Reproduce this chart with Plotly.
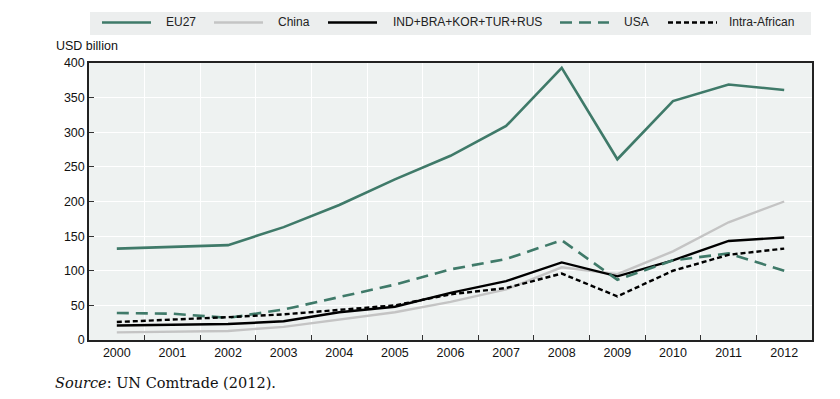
import plotly.graph_objects as go

years = [str(y) for y in range(2000, 2013)]
eu27 = [132, 134, 137, 163, 195, 232, 266, 309, 393, 261, 345, 369, 361]
china = [11, 12, 13, 19, 30, 40, 55, 73, 105, 95, 128, 170, 200]
ind_bra = [21, 22, 23, 27, 40, 48, 68, 85, 112, 92, 115, 143, 148]
usa = [39, 38, 32, 44, 62, 80, 102, 117, 144, 87, 115, 125, 100]
intra_african = [26, 29, 33, 37, 44, 50, 66, 75, 96, 63, 100, 123, 132]

GREEN = "#3f7a69"
FONT = "Liberation Sans, Arial, sans-serif"
W, H = 840, 399
L, R, T, B = 89, 28, 63, 59
PW, PH = W - L - R, H - T - B


def px(x):
    return (x - L) / PW


def py(y):
    return (H - B - y) / PH


fig = go.Figure()
series = [
    ("EU27", eu27, dict(color=GREEN, width=2.6), 102, 164),
    ("China", china, dict(color="#c4c4c4", width=2.4), 214, 276),
    ("IND+BRA+KOR+TUR+RUS", ind_bra, dict(color="#000000", width=2.4), 328, 391),
    ("USA", usa, dict(color=GREEN, width=2.6, dash="12px,7px"), 560, 622),
    ("Intra-African", intra_african, dict(color="#000000", width=2.4, dash="5px,3px"), 668, 727),
]
for name, vals, line, _, _ in series:
    fig.add_trace(go.Scatter(x=years, y=vals, name=name, mode="lines", line=line,
                             showlegend=False))

fig.update_layout(
    width=W, height=H,
    margin=dict(l=L, r=R, t=T, b=B, autoexpand=False),
    paper_bgcolor="white",
    plot_bgcolor="#eef2f1",
    font=dict(family=FONT, size=12, color="#111111"),
    xaxis=dict(type="category", range=[-0.5, 12.5], tickson="boundaries",
               ticks="inside", ticklen=5, tickcolor="#333", showgrid=True,
               gridcolor="white", gridwidth=1, showline=True, linecolor="#222",
               linewidth=1.5, mirror=True, tickfont=dict(size=12.5)),
    yaxis=dict(range=[0, 400], dtick=50, ticks="inside", ticklen=5, tickcolor="#333",
               showgrid=True, gridcolor="white", gridwidth=1, showline=True,
               linecolor="#222", linewidth=1.5, mirror=True, zeroline=False,
               tickfont=dict(size=12.5)),
)

# legend band
fig.add_shape(type="rect", xref="paper", yref="paper", x0=px(90), x1=px(811),
              y0=py(35), y1=py(12), fillcolor="#eceeee", line=dict(width=0), layer="below")
LY = 22.5
for name, vals, line, lx, tx in series:
    fig.add_shape(type="line", xref="paper", yref="paper", x0=px(lx), x1=px(lx + 49),
                  y0=py(LY), y1=py(LY), line=line)
    fig.add_annotation(text=name, xref="paper", yref="paper", x=px(tx), y=py(LY),
                       xanchor="left", yanchor="middle", showarrow=False,
                       font=dict(size=12, family=FONT, color="#222"))

fig.add_annotation(text="USD billion", xref="paper", yref="paper", x=px(54), y=py(46),
                   xanchor="left", yanchor="middle", showarrow=False,
                   font=dict(size=12.5, family=FONT))
fig.add_annotation(text="<i>Source</i>: UN Comtrade (2012).", xref="paper", yref="paper",
                   x=px(53), y=py(383), xanchor="left", yanchor="middle", showarrow=False,
                   font=dict(size=14.5, family="DejaVu Serif, Liberation Serif, serif"))

fig.write_html("out.html", config={"displayModeBar": False},
               post_script="document.body.style.margin='0';")
